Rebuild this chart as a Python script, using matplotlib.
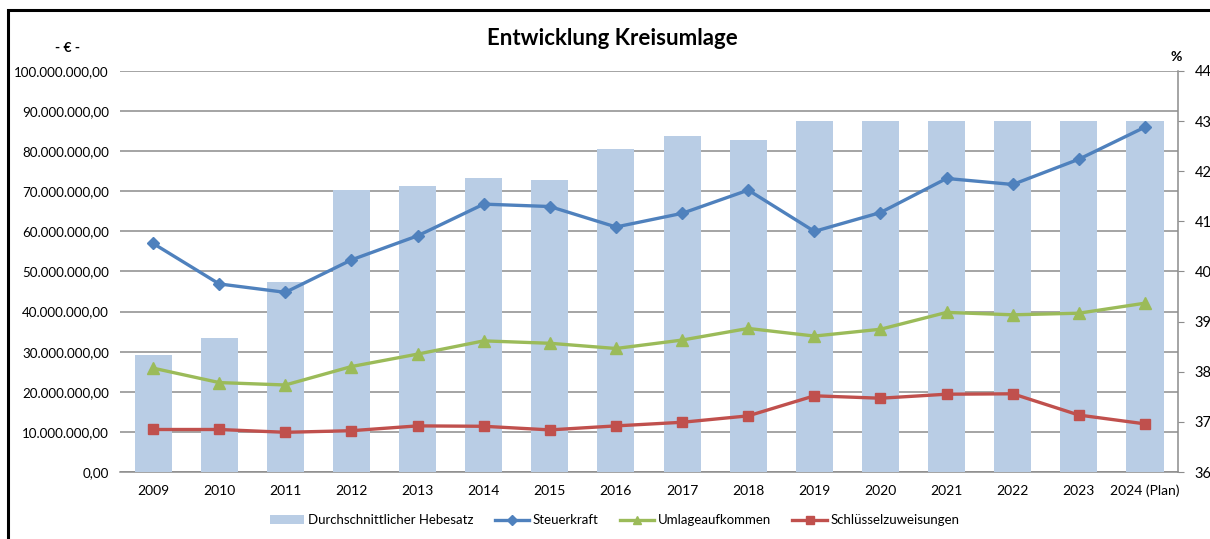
"""Entwicklung Kreisumlage: Hebesatz bars (right axis, %) plus three EUR lines (left axis)."""
import matplotlib
matplotlib.use("Agg")
import matplotlib.pyplot as plt
from matplotlib.lines import Line2D
from matplotlib.patches import Patch, Rectangle
from matplotlib.ticker import FuncFormatter, MultipleLocator
import numpy as np

plt.rcParams["font.family"] = ["Lato", "DejaVu Sans"]

years = ["2009", "2010", "2011", "2012", "2013", "2014", "2015", "2016",
         "2017", "2018", "2019", "2020", "2021", "2022", "2023", "2024 (Plan)"]
hebesatz = [38.33, 38.67, 39.8, 41.62, 41.7, 41.86, 41.82, 42.45,
            42.7, 42.62, 43.0, 43.0, 43.0, 43.0, 43.0, 43.0]
steuerkraft = [57.0, 46.9, 44.8, 52.9, 58.9, 66.8, 66.2, 61.1,
               64.5, 70.3, 60.0, 64.7, 73.2, 71.7, 78.0, 86.0]
umlage = [25.9, 22.3, 21.7, 26.3, 29.4, 32.7, 32.1, 30.8,
          32.9, 35.8, 33.9, 35.6, 39.8, 39.2, 39.6, 42.1]
schluessel = [10.6, 10.6, 9.9, 10.3, 11.5, 11.4, 10.5, 11.5,
              12.4, 14.0, 19.0, 18.4, 19.4, 19.5, 14.2, 12.0]

C_BAR = "#B9CDE5"
C_STEUER = "#4F81BD"
C_UMLAGE = "#9BBB59"
C_SCHL = "#C0504D"
C_GRID = "#8C8C8C"


def eur(v, _pos):
    s = f"{v * 1e6:,.2f}"
    return s.replace(",", "X").replace(".", ",").replace("X", ".")


fig = plt.figure(figsize=(12.1, 5.39), dpi=100)
ax = fig.add_axes([0.0992, 0.1243, 0.8744, 0.744])
ax_bar = ax.twinx()
ax_line = ax.twinx()

x = np.arange(len(years))

# grid + left labels
ax.set_ylim(0, 100)
ax.yaxis.set_major_locator(MultipleLocator(10))
ax.yaxis.set_major_formatter(FuncFormatter(eur))
ax.grid(axis="y", color=C_GRID, lw=1.1)
ax.set_axisbelow(True)
ax.tick_params(axis="y", length=0, labelsize=9.6, pad=8)
ax.set_xlim(-0.5, len(years) - 0.5)
ax.set_xticks(x)
ax.set_xticklabels(years)
ax.tick_params(axis="x", length=0, labelsize=10, pad=9)
for s in ("top", "left", "right"):
    ax.spines[s].set_visible(False)
ax.spines["bottom"].set_color(C_GRID)
ax.spines["bottom"].set_linewidth(1.1)

# bars on right axis
ax_bar.bar(x, hebesatz, width=0.56, color=C_BAR, zorder=2)
ax_bar.set_ylim(36, 44)
ax_bar.yaxis.set_major_locator(MultipleLocator(1))
ax_bar.tick_params(axis="y", length=4, color=C_GRID, labelsize=10.5, pad=8)
for s in ("top", "left", "bottom"):
    ax_bar.spines[s].set_visible(False)
ax_bar.spines["right"].set_color(C_GRID)
ax_bar.spines["right"].set_linewidth(1.1)

# lines on a third axis sharing the left scale
ax_line.set_ylim(0, 100)
ax_line.set_yticks([])
for s in ax_line.spines.values():
    s.set_visible(False)
ax_line.plot(x, steuerkraft, color=C_STEUER, lw=2.4, marker="D", ms=6.5)
ax_line.plot(x, umlage, color=C_UMLAGE, lw=2.4, marker="^", ms=8)
ax_line.plot(x, schluessel, color=C_SCHL, lw=2.4, marker="s", ms=7.5)

fig.text(0.506, 0.928, "Entwicklung Kreisumlage", ha="center", va="center",
         fontsize=16, fontweight="bold")
fig.text(0.056, 0.911, "- € -", ha="center", va="center", fontsize=10, fontweight="bold")
fig.text(0.972, 0.894, "%", ha="center", va="center", fontsize=10, fontweight="bold")

handles = [
    Patch(facecolor=C_BAR, label="Durchschnittlicher Hebesatz"),
    Line2D([0], [0], color=C_STEUER, lw=2.4, marker="D", ms=5, label="Steuerkraft"),
    Line2D([0], [0], color=C_UMLAGE, lw=2.4, marker="^", ms=6, label="Umlageaufkommen"),
    Line2D([0], [0], color=C_SCHL, lw=2.4, marker="s", ms=6, label="Schlüsselzuweisungen"),
]
fig.legend(handles=handles, loc="center", bbox_to_anchor=(0.508, 0.035), ncol=4,
           frameon=False, fontsize=9.5, handlelength=2.6, handletextpad=0.3,
           columnspacing=1.6)

# outer frame (left and top edges only visible in the crop)
fig.add_artist(Rectangle((8 / 1210, -0.05), 1.1, 1 - 10 / 539 + 0.05,
                         transform=fig.transFigure, fill=False, ec="black", lw=2.2))

fig.savefig("out.png", dpi=100)
